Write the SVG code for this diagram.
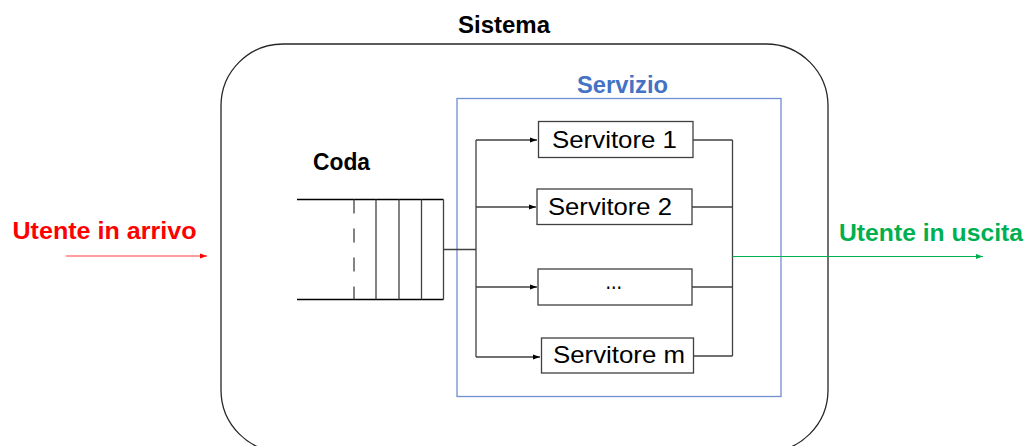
<svg xmlns="http://www.w3.org/2000/svg" width="1026" height="446" viewBox="0 0 1026 446">
  <style>
    .lbl { font-family: "Liberation Sans", Arial, sans-serif; font-size: 24px; fill: #000; }
    .bold { font-family: "Liberation Sans", Arial, sans-serif; font-weight: bold; font-size: 23px; }
    .box { fill: #fff; stroke: #404040; stroke-width: 1.3; }
    .wire { fill: none; stroke: #404040; stroke-width: 1.3; }
  </style>
  <defs>
    <marker id="head" markerWidth="8" markerHeight="6" refX="7" refY="3" orient="auto" markerUnits="userSpaceOnUse">
      <path d="M0,0.5 L7,3 L0,5.5 z" fill="#000"/>
    </marker>
    <marker id="headRed" markerWidth="8" markerHeight="6" refX="7" refY="3" orient="auto" markerUnits="userSpaceOnUse">
      <path d="M0,0.5 L7,3 L0,5.5 z" fill="#FF0000"/>
    </marker>
    <marker id="headGreen" markerWidth="8" markerHeight="6" refX="7" refY="3" orient="auto" markerUnits="userSpaceOnUse">
      <path d="M0,0.5 L7,3 L0,5.5 z" fill="#00B050"/>
    </marker>
  </defs>

  <rect width="1026" height="446" fill="#fff"/>

  <!-- system boundary -->
  <g id="sistema">
    <rect x="221" y="44" width="607" height="408" rx="62" ry="62" fill="none" stroke="#262626" stroke-width="1.3"/>
    <text class="bold" x="458" y="33" textLength="92" lengthAdjust="spacingAndGlyphs">Sistema</text>
  </g>

  <!-- service area -->
  <g id="servizio">
    <rect x="457" y="98.5" width="324" height="298" fill="none" stroke="#6F8FD3" stroke-width="1.3"/>
    <text class="bold" x="577" y="93" fill="#4472C4" textLength="91" lengthAdjust="spacingAndGlyphs">Servizio</text>
  </g>

  <!-- queue -->
  <g id="coda">
    <text class="bold" x="313" y="170" textLength="57" lengthAdjust="spacingAndGlyphs">Coda</text>
    <line x1="297" y1="199.5" x2="443.5" y2="199.5" stroke="#000" stroke-width="1.3"/>
    <line x1="297" y1="299.5" x2="443.5" y2="299.5" stroke="#000" stroke-width="1.3"/>
    <line x1="354" y1="199.5" x2="354" y2="299.5" stroke="#404040" stroke-width="1.3" stroke-dasharray="14 15"/>
    <line x1="376" y1="199.5" x2="376" y2="299.5" class="wire"/>
    <line x1="399" y1="199.5" x2="399" y2="299.5" class="wire"/>
    <line x1="421.5" y1="199.5" x2="421.5" y2="299.5" class="wire"/>
    <line x1="443.5" y1="199.5" x2="443.5" y2="299.5" class="wire"/>
  </g>

  <!-- servers -->
  <g id="servitore-1">
    <rect class="box" x="538.5" y="121.5" width="154.5" height="36"/>
    <text class="lbl" x="552" y="148" textLength="125" lengthAdjust="spacingAndGlyphs">Servitore 1</text>
  </g>
  <g id="servitore-2">
    <rect class="box" x="537" y="189" width="155" height="35.5"/>
    <text class="lbl" x="548" y="215" textLength="124" lengthAdjust="spacingAndGlyphs">Servitore 2</text>
  </g>
  <g id="servitore-dots">
    <rect class="box" x="538" y="269" width="154" height="36"/>
    <text class="lbl" x="605.5" y="289" textLength="16.5" lengthAdjust="spacingAndGlyphs">...</text>
  </g>
  <g id="servitore-m">
    <rect class="box" x="541.5" y="338" width="152" height="35"/>
    <text class="lbl" x="553" y="363" textLength="132" lengthAdjust="spacingAndGlyphs">Servitore m</text>
  </g>

  <!-- external labels -->
  <g id="arrivo">
    <text class="bold" x="12.5" y="239" fill="#FF0000" font-size="24" textLength="184" lengthAdjust="spacingAndGlyphs">Utente in arrivo</text>
  </g>
  <g id="uscita">
    <text class="bold" x="839" y="240.5" fill="#00B050" font-size="24" textLength="184" lengthAdjust="spacingAndGlyphs">Utente in uscita</text>
  </g>

  <!-- connectors -->
  <g id="connettori">
    <line x1="66" y1="256" x2="207" y2="256" stroke="#FF3B3B" stroke-width="1.2" marker-end="url(#headRed)"/>
    <line x1="443.5" y1="249.5" x2="476" y2="249.5" class="wire"/>
    <line x1="476" y1="140" x2="476" y2="357" class="wire"/>
    <line x1="476" y1="140" x2="537" y2="140" class="wire" marker-end="url(#head)"/>
    <line x1="476" y1="207" x2="536" y2="207" class="wire" marker-end="url(#head)"/>
    <line x1="476" y1="287" x2="537" y2="287" class="wire" marker-end="url(#head)"/>
    <line x1="476" y1="357" x2="540" y2="357" class="wire" marker-end="url(#head)"/>
    <line x1="693" y1="140" x2="732.5" y2="140" class="wire"/>
    <line x1="692" y1="207" x2="732.5" y2="207" class="wire"/>
    <line x1="692" y1="287" x2="732.5" y2="287" class="wire"/>
    <line x1="693.5" y1="356" x2="732.5" y2="356" class="wire"/>
    <line x1="732.5" y1="140" x2="732.5" y2="356" class="wire"/>
    <line x1="732.5" y1="256.5" x2="983" y2="256.5" stroke="#00B050" stroke-width="1.2" marker-end="url(#headGreen)"/>
  </g>
</svg>
